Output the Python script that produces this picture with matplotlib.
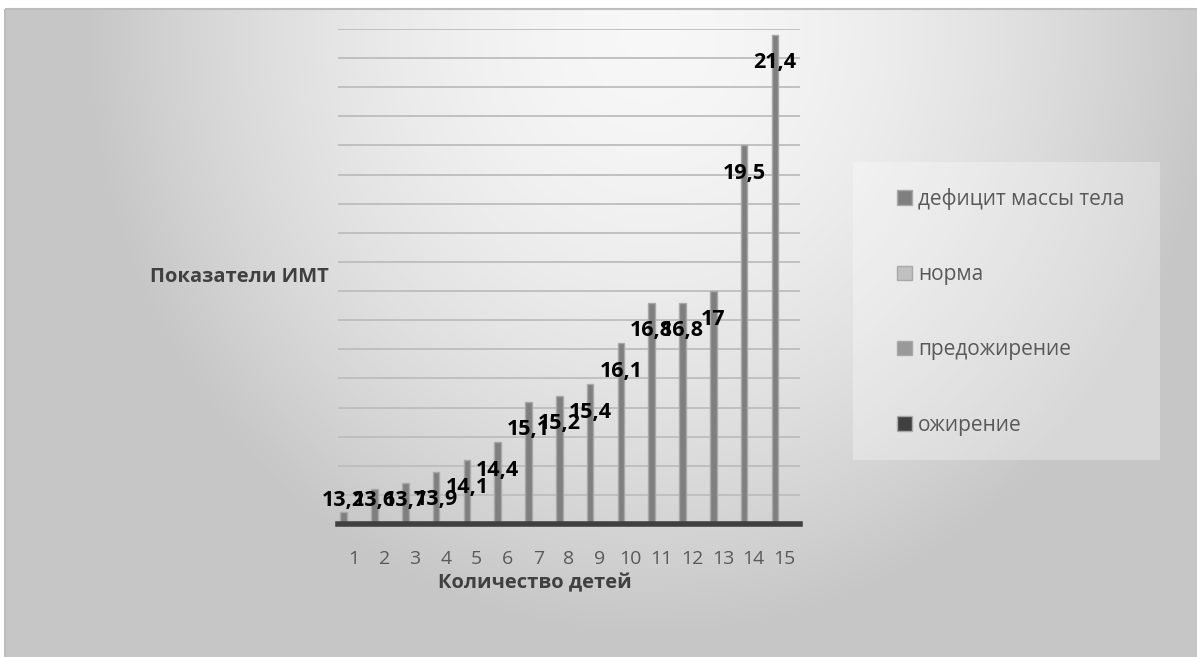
import matplotlib
matplotlib.use("Agg")
import matplotlib.pyplot as plt
from matplotlib.patches import Rectangle, Patch
import numpy as np

plt.rcParams['font.family'] = ['Open Sans', 'DejaVu Sans']

# данные
categories = [str(i) for i in range(1, 16)]
deficit = [13.2, 13.6, 13.7, 13.9, 14.1, 14.4, 15.1, 15.2, 15.4, 16.1, 16.8, 16.8, 17, 19.5, 21.4]
norma = [0] * 15
predozhirenie = [0] * 15
ozhirenie = [0] * 15
series_names = ['дефицит массы тела', 'норма', 'предожирение', 'ожирение']
series_colors = ['#7f7f7f', '#c0c0c0', '#999999', '#404040']

W, H = 1197, 657
fig = plt.figure(figsize=(W / 100, H / 100), dpi=100)

# фон с градиентом (в пикселях)
bg = fig.add_axes([0, 0, 1, 1], zorder=0)
xx, yy = np.meshgrid(np.arange(W), np.arange(H))
d = np.sqrt(((xx - 650) / 560.0) ** 2 + ((yy - 30) / 600.0) ** 2)
shade = 0.97 - 0.19 * np.clip(d, 0, 1) ** 1.7
img = np.dstack([shade, shade, shade])
img[:9, :, :] = 1.0
img[:, :5, :] = 1.0
bg.imshow(img, extent=(0, W, H, 0), aspect='auto', interpolation='bilinear')
bg.add_patch(Rectangle((5, 9), W, H, fill=False, edgecolor='#bdbdbd', lw=1.5))
# подложка легенды
bg.add_patch(Rectangle((853, 162), 307, 298, facecolor='white', alpha=0.3, edgecolor='none'))
bg.set_xlim(0, W)
bg.set_ylim(H, 0)
bg.axis('off')

# область построения
left, right, top, base = 338, 800, 29, 524
ax = fig.add_axes([left / W, 1 - base / H, (right - left) / W, (base - top) / H], zorder=1)
ax.patch.set_alpha(0)

x = np.arange(1, 16)
w = 0.21
all_series = [deficit, norma, predozhirenie, ozhirenie]
for i, (vals, col) in enumerate(zip(all_series, series_colors)):
    ax.bar(x + (i - 1.5) * w, vals, width=w, color=col, edgecolor='#a8a8a8', lw=1, zorder=3)

ax.set_ylim(13, 21.5)
ax.set_xlim(0.5, 15.5)
ax.set_yticks(np.arange(13.5, 21.6, 0.5))
ax.yaxis.grid(True, color='#bdbdbd', lw=1.3, zorder=0)
ax.set_yticklabels([])
ax.tick_params(axis='y', length=0)
for s in ['top', 'right', 'left']:
    ax.spines[s].set_visible(False)
ax.spines['bottom'].set_color('#404040')
ax.spines['bottom'].set_linewidth(4)
ax.spines['bottom'].set_zorder(4)

ax.set_xticks(x)
ax.set_xticklabels(categories, fontsize=14, color='#595959')
ax.tick_params(axis='x', length=0, pad=19)

# подписи данных
for xi, v in zip(x, deficit):
    ly = max(v - 0.48, 13.41)
    ax.text(xi - 1.5 * w, ly, f'{v:g}'.replace('.', ','), ha='center', va='center',
            fontsize=15.5, fontweight='bold', color='black', zorder=5)

ax.set_xlabel('Количество детей', fontsize=14.5, fontweight='bold', color='#404040',
              va='center')
ax.xaxis.set_label_coords((535 - left) / (right - left), (base - 583) / (base - top))
ax.set_ylabel('Показатели ИМТ', fontsize=14.5, fontweight='bold', color='#404040',
              rotation=0, ha='center', va='center')
ax.yaxis.set_label_coords((239 - left) / (right - left), (base - 277) / (base - top))

handles = [Patch(facecolor=c, edgecolor='#a8a8a8') for c in series_colors]
ax.legend(handles, series_names, loc='upper left', bbox_to_anchor=(897, 188),
          bbox_transform=bg.transData, frameon=False, fontsize=15, labelcolor='#595959',
          handlelength=0.7, handleheight=0.7, handletextpad=0.3, labelspacing=2.6,
          borderpad=0, borderaxespad=0)

fig.savefig('out.png', dpi=100)
